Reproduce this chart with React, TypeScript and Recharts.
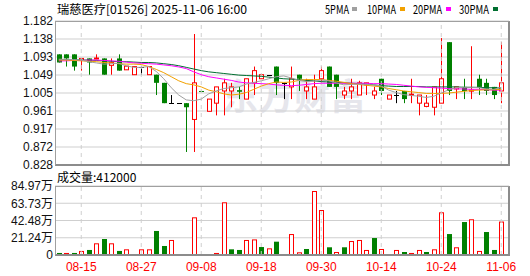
import React from 'react';
import { ComposedChart, Bar, Line, XAxis, YAxis, CartesianGrid, ReferenceLine } from 'recharts';

const dates = [
  '08-12','08-13','08-14','08-15','08-18','08-19','08-20','08-21','08-22','08-25',
  '08-26','08-27','08-28','08-29','09-01','09-02','09-03','09-04','09-05','09-08',
  '09-09','09-10','09-11','09-12','09-15','09-16','09-17','09-18','09-19','09-22',
  '09-23','09-24','09-25','09-26','09-29','09-30','10-02','10-03','10-06','10-08',
  '10-09','10-10','10-13','10-14','10-15','10-16','10-17','10-20','10-21','10-22',
  '10-23','10-24','10-27','10-28','10-30','10-31','11-03','11-04','11-05','11-06',
];
const opens = [
  1.10,1.10,1.10,1.085,1.09,1.089,1.09,1.073,1.09,1.062,
  1.05,1.07,1.05,1.05,1.03,0.98,0.98,0.98,0.94,1.01,
  0.96,0.98,1.01,1.01,1.012,0.99,1.03,1.04,1.05,1.07,
  1.03,1.02,1.05,1.01,0.99,1.04,1.07,1.05,1.00,1.01,
  1.00,1.025,1.00,1.04,0.99,1.00,1.01,1.00,0.98,0.972,
  0.97,0.98,1.13,1.015,1.02,1.01,1.04,1.03,1.02,1.01,
];
const highs = [
  1.10,1.10,1.10,1.09,1.09,1.10,1.09,1.09,1.10,1.071,
  1.07,1.07,1.07,1.05,1.03,1.00,0.98,0.98,1.15,1.01,
  0.99,1.02,1.04,1.03,1.02,1.04,1.07,1.05,1.05,1.07,
  1.03,1.07,1.05,1.04,1.05,1.07,1.07,1.05,1.02,1.04,
  1.035,1.03,1.02,1.04,1.00,1.01,1.01,1.04,1.00,1.00,
  1.02,1.14,1.13,1.02,1.04,1.12,1.05,1.04,1.02,1.13,
];
const lows = [
  1.08,1.07,1.06,1.06,1.05,1.088,1.05,1.05,1.06,1.062,
  1.05,1.05,1.05,1.00,0.98,0.98,0.98,0.86,0.86,1.008,
  0.96,0.95,0.95,0.97,0.99,0.99,1.00,1.04,1.05,1.00,
  0.99,0.99,1.01,0.99,0.99,1.03,1.02,0.99,0.99,0.99,
  1.00,1.00,0.99,1.00,0.99,0.98,0.98,0.98,0.95,0.97,
  0.95,0.98,1.00,0.99,0.99,0.99,1.00,1.00,0.99,0.98,
];
const closes = [
  1.08,1.09,1.07,1.09,1.08,1.091,1.05,1.08,1.06,1.071,
  1.07,1.07,1.07,1.03,0.98,0.98,0.98,0.97,1.03,1.008,
  0.99,1.02,1.03,1.02,1.008,1.04,1.06,1.05,1.05,1.03,
  1.03,1.04,1.04,1.02,1.02,1.06,1.02,1.02,1.01,1.02,
  1.03,1.03,1.01,1.01,1.00,1.00,0.99,1.002,1.00,0.98,
  1.02,1.04,1.01,1.02,1.01,1.012,1.02,1.01,1.00,1.03,
];
const ma5 = [
  1.088,1.088,1.087,1.086,1.082,1.079,1.076,1.077,1.078,1.072,
  1.068,1.068,1.070,1.058,1.040,1.018,1.000,0.988,0.986,0.990,
  1.003,1.010,1.016,1.018,1.020,1.027,1.031,1.035,1.040,1.045,
  1.047,1.042,1.036,1.033,1.034,1.037,1.035,1.030,1.025,1.026,
  1.027,1.026,1.025,1.022,1.012,1.006,1.001,0.999,0.997,0.994,
  0.997,1.005,1.013,1.018,1.019,1.019,1.018,1.015,1.014,1.019,
];
const ma10 = [
  1.086,1.086,1.085,1.084,1.083,1.082,1.080,1.079,1.077,1.076,
  1.076,1.075,1.070,1.063,1.055,1.045,1.035,1.028,1.025,1.020,
  1.012,1.008,1.003,1.000,1.002,1.006,1.014,1.022,1.028,1.032,
  1.031,1.032,1.036,1.038,1.038,1.038,1.036,1.034,1.031,1.028,
  1.026,1.024,1.022,1.020,1.016,1.013,1.010,1.008,1.006,1.004,
  1.004,1.004,1.005,1.007,1.009,1.011,1.012,1.013,1.013,1.014,
];
const ma20 = [
  1.084,1.084,1.085,1.085,1.086,1.086,1.085,1.084,1.083,1.081,
  1.079,1.078,1.077,1.076,1.074,1.072,1.069,1.065,1.057,1.050,
  1.045,1.042,1.039,1.036,1.032,1.030,1.029,1.028,1.027,1.025,
  1.024,1.023,1.024,1.026,1.028,1.029,1.029,1.029,1.029,1.029,
  1.029,1.029,1.028,1.028,1.027,1.026,1.024,1.022,1.020,1.019,
  1.018,1.017,1.016,1.015,1.015,1.014,1.014,1.013,1.012,1.012,
];
const ma30 = [
  1.087,1.087,1.087,1.086,1.086,1.085,1.084,1.083,1.082,1.082,
  1.081,1.080,1.080,1.079,1.077,1.075,1.072,1.068,1.064,1.060,
  1.057,1.055,1.053,1.051,1.049,1.048,1.047,1.046,1.044,1.042,
  1.040,1.039,1.038,1.036,1.035,1.033,1.032,1.031,1.030,1.029,
  1.028,1.027,1.025,1.023,1.022,1.021,1.021,1.021,1.021,1.020,
  1.020,1.020,1.020,1.020,1.019,1.019,1.019,1.018,1.018,1.017,
];
const volumes = [
  25000,25000,25000,50000,62000,144000,197000,144000,50000,70000,
  12000,70000,70000,296000,111000,185000,12000,12000,464000,12000,
  12000,25000,649000,70000,62000,185000,192000,98000,82000,164000,
  12000,258000,33000,74000,788000,554000,95000,37000,95000,172000,
  185000,62000,209000,74000,12000,62000,37000,25000,62000,37000,
  70000,526000,258000,95000,406000,440000,50000,283000,62000,412000,
];
const volUp = [
  0,1,0,1,0,1,0,1,0,1,
  1,1,1,0,0,1,1,0,1,0,
  0,1,1,0,0,1,1,0,1,0,
  1,1,1,0,1,1,0,1,0,1,
  1,1,0,1,0,1,0,1,1,0,
  1,1,0,1,0,1,1,0,0,1,
];
const tickDates = ['08-15','08-27','09-08','09-18','09-30','10-14','10-24','11-06'];
const priceTicks = [0.828, 0.87225, 0.9165, 0.96075, 1.005, 1.04925, 1.0935, 1.13775, 1.182];
const priceTickLabels = ['0.828','0.872','0.917','0.961','1.005','1.049','1.093','1.138','1.182'];
const volTicks = [0, 212425, 424850, 637275, 849700];
const volTickLabels = ['0','21.24万','42.48万','63.73万','84.97万'];
const maNames = ['5PMA', '10PMA', '20PMA', '30PMA'];

const RED = '#ff0000';
const GREEN = '#008000';
const BLACK = '#000000';
const MA_COLORS = ['#a0a0a0', '#f2a100', '#ff00ff', '#006f30'];
const GRID = '#cfcfcf';
const NUM_FONT = '"Liberation Sans", Arial, "Noto Sans CJK SC", sans-serif';
const CJK_FONT = '"Noto Sans CJK SC", "Liberation Sans", sans-serif';

const rows = dates.map((d, i) => ({
  date: d,
  range: [lows[i], highs[i]],
  o: opens[i], h: highs[i], l: lows[i], c: closes[i],
  ma5: ma5[i], ma10: ma10[i], ma20: ma20[i], ma30: ma30[i],
  vol: volumes[i], up: volUp[i],
}));

const Candle = (props: any) => {
  const { x, y, width, height } = props;
  const p = props.payload ?? props;
  const { o, h, l, c } = p;
  if (x == null || y == null) return null;
  const cx = Math.round(x + width / 2);
  const yTop = Math.min(y, y + height);
  const yBot = Math.max(y, y + height);
  const span = h - l;
  const py = (v: number) => (span > 0 ? yTop + ((h - v) / span) * (yBot - yTop) : yTop);
  const color = c > o ? RED : c < o ? GREEN : BLACK;
  const bTop = py(Math.max(o, c));
  const bBot = py(Math.min(o, c));
  const wx = cx + 0.5;
  if (c === o) {
    return (
      <g>
        <line x1={wx} x2={wx} y1={yTop} y2={yBot} stroke={color} strokeWidth={1} />
        <line x1={cx - 2} x2={cx + 3} y1={Math.round(bTop) + 0.5} y2={Math.round(bTop) + 0.5} stroke={color} strokeWidth={1} />
      </g>
    );
  }
  if (c > o) {
    const bh = Math.max(bBot - bTop, 1);
    return (
      <g>
        <line x1={wx} x2={wx} y1={yTop} y2={yBot} stroke={color} strokeWidth={1} />
        <rect x={cx - 1.5} y={bTop} width={4} height={bh} fill="#ffffff" stroke={color} strokeWidth={1} />
      </g>
    );
  }
  return (
    <g>
      <line x1={wx} x2={wx} y1={yTop} y2={yBot} stroke={color} strokeWidth={1} />
      <rect x={cx - 2} y={bTop} width={5} height={Math.max(bBot - bTop, 1)} fill={color} />
    </g>
  );
};

const VolBar = (props: any) => {
  const { x, y, width, height } = props;
  const p = props.payload ?? props;
  if (x == null || y == null) return null;
  const cx = Math.round(x + width / 2);
  const top = Math.min(y, y + height);
  const bh = Math.abs(height);
  if (p.up) {
    return <rect x={cx - 1.5} y={top + 0.5} width={4} height={Math.max(bh - 1, 0.5)} fill="#ffffff" stroke={RED} strokeWidth={1} />;
  }
  return <rect x={cx - 2} y={top} width={5} height={bh} fill={GREEN} />;
};

const fmtPrice = (v: number) => {
  const i = priceTicks.findIndex((t) => Math.abs(t - v) < 1e-7);
  return i >= 0 ? priceTickLabels[i] : String(v);
};
const fmtVol = (v: number) => {
  const i = volTicks.findIndex((t) => Math.abs(t - v) < 1e-3);
  return i >= 0 ? volTickLabels[i] : String(v);
};

const legendPos = [
  { tx: 325, tl: 24, sq: 352 },
  { tx: 367, tl: 29, sq: 400 },
  { tx: 413, tl: 29, sq: 446 },
  { tx: 459, tl: 30, sq: 493 },
];

export default function App() {
  return (
    <div style={{ position: 'absolute', left: 0, top: 0, width: 530, height: 276, background: '#ffffff', overflow: 'hidden' }}>
      {/* watermark */}
      <svg width={530} height={276} style={{ position: 'absolute', left: 0, top: 0 }}>
        <text x={222} y={110} fontSize={36} fontWeight={700} fill="#e6e6ec" fontFamily={CJK_FONT}>东方财富</text>
      </svg>

      {/* header */}
      <svg width={530} height={276} style={{ position: 'absolute', left: 0, top: 0 }}>
        <text x={57} y={14} fontSize={12} fill="#000" fontFamily={CJK_FONT} textLength={190} lengthAdjust="spacingAndGlyphs">
          瑞慈医疗[01526] 2025-11-06 16:00
        </text>
        {maNames.map((n, i) => (
          <g key={n}>
            <text x={legendPos[i].tx} y={14} fontSize={12} fill="#000" fontFamily={CJK_FONT} textLength={legendPos[i].tl} lengthAdjust="spacingAndGlyphs">{n}</text>
            <rect x={legendPos[i].sq} y={7} width={5} height={4} fill={MA_COLORS[i]} />
          </g>
        ))}
        <text x={57} y={182} fontSize={12} fill="#000" fontFamily={CJK_FONT}>成交量:412000</text>
      </svg>

      {/* price chart */}
      <div style={{ position: 'absolute', left: 0, top: 0 }}>
        <ComposedChart width={530} height={178} data={rows} margin={{ top: 21, right: 21, bottom: 13, left: 0 }}>
          <CartesianGrid vertical={false} stroke={GRID} />
          <XAxis dataKey="date" hide padding={{ left: 0, right: 4 }} />
          <YAxis
            type="number"
            domain={[0.828, 1.182]}
            ticks={priceTicks}
            interval={0}
            allowDataOverflow
            width={55}
            axisLine={false}
            tickLine={false}
            tickSize={0}
            tickMargin={2}
            tickFormatter={fmtPrice}
            tick={{ fontSize: 12, fill: '#111', fontFamily: NUM_FONT }}
          />
          {tickDates.map((d) => (
            <ReferenceLine key={d} x={d} stroke={GRID} strokeDasharray="4 4" />
          ))}
          <Bar dataKey="range" shape={Candle} isAnimationActive={false} />
          <Line dataKey="ma30" stroke={MA_COLORS[3]} strokeWidth={1} dot={false} isAnimationActive={false} />
          <Line dataKey="ma20" stroke={MA_COLORS[2]} strokeWidth={1} dot={false} isAnimationActive={false} />
          <Line dataKey="ma10" stroke={MA_COLORS[1]} strokeWidth={1} dot={false} isAnimationActive={false} />
          <Line dataKey="ma5" stroke={MA_COLORS[0]} strokeWidth={1} dot={false} isAnimationActive={false} />
        </ComposedChart>
      </div>

      {/* volume chart */}
      <div style={{ position: 'absolute', left: 0, top: 176 }}>
        <ComposedChart width={530} height={100} data={rows} margin={{ top: 10, right: 21, bottom: 0, left: 0 }}>
          <CartesianGrid vertical={false} stroke={GRID} />
          <XAxis
            dataKey="date"
            ticks={tickDates}
            interval={0}
            padding={{ left: 0, right: 4 }}
            axisLine={false}
            tickLine={false}
            tickSize={0}
            tickMargin={7}
            height={21}
            tick={{ fontSize: 12, fill: RED, fontFamily: NUM_FONT }}
          />
          <YAxis
            type="number"
            domain={[0, 849700]}
            ticks={volTicks}
            interval={0}
            allowDataOverflow
            width={55}
            axisLine={false}
            tickLine={false}
            tickSize={0}
            tickMargin={2}
            tickFormatter={fmtVol}
            tick={{ fontSize: 12, fill: '#111', fontFamily: NUM_FONT }}
          />
          {tickDates.map((d) => (
            <ReferenceLine key={d} x={d} stroke={GRID} strokeDasharray="4 4" />
          ))}
          <Bar dataKey="vol" shape={VolBar} isAnimationActive={false} />
        </ComposedChart>
      </div>

      {/* plot borders */}
      <div style={{ position: 'absolute', left: 55, top: 21, width: 455, height: 145, boxSizing: 'border-box', borderLeft: '1px solid #a0a0a0', borderTop: '1px solid #a0a0a0', borderRight: '2px solid #8c8c8c', borderBottom: '2px solid #8c8c8c', pointerEvents: 'none' }} />
      <div style={{ position: 'absolute', left: 55, top: 186, width: 455, height: 70, boxSizing: 'border-box', borderLeft: '1px solid #a0a0a0', borderTop: '1px solid #a0a0a0', borderRight: '2px solid #8c8c8c', borderBottom: '2px solid #8c8c8c', pointerEvents: 'none' }} />
    </div>
  );
}
